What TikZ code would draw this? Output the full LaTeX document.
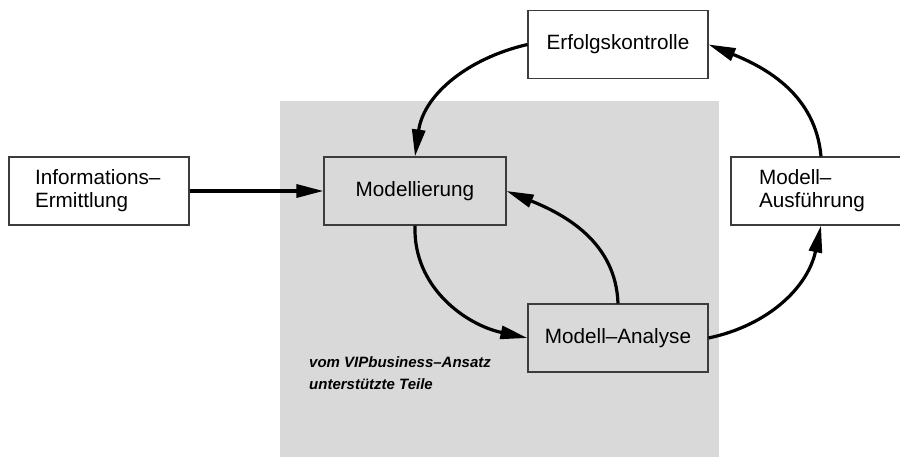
\documentclass[tikz,border=0pt]{standalone}
\usepackage{fontspec}
\setmainfont{Liberation Sans}
\usetikzlibrary{arrows.meta}

\definecolor{zonegray}{HTML}{D9D9D9}
\definecolor{frame}{HTML}{3C3C3C}

\tikzset{
  box/.style={draw=frame, line width=1.1pt, fill=white,
    minimum width=180pt, minimum height=68pt, inner sep=0pt,
    font=\fontsize{20.7}{23}\selectfont},
  leftbox/.style={box, text width=128pt, align=left},
  flow/.style={line width=3.2pt, -{Triangle[length=27pt,width=13pt]}},
  note/.style={font=\fontsize{15}{22}\selectfont\bfseries\itshape,
    align=left, inner sep=0pt}
}

\begin{document}
\begin{tikzpicture}[x=1pt, y=-1pt]
  \useasboundingbox (0,0) rectangle (900,457);
  \clip (0,0) rectangle (900,457);

  % shaded area of the supported parts
  \fill[zonegray] (280,101) rectangle (719,458);

  % process steps
  \node[leftbox] (info) at (99,191) {Informations--\\Ermittlung};
  \node[box, fill=zonegray, minimum width=182pt] (mod) at (415,191) {Modellierung};
  \node[box] (erf) at (618,44.5) {Erfolgskontrolle};
  \node[box, fill=zonegray] (ana) at (618,338) {Modell--Analyse};
  \node[leftbox, text width=124pt] (ausf) at (821,191) {Modell--\\Ausführung};

  \node[note, anchor=base west] (zone) at (309,389)
    {vom VIPbusiness--Ansatz\\unterstützte Teile};

  % cycle connectors
  \draw[flow] (info.east) -- (mod.west);
  \draw[flow] (erf.west) to[out=193, in=82] (mod.north);
  \draw[flow] (mod.south) to[out=-92, in=168] (ana.west);
  \draw[flow] (ana.north) to[out=92, in=-22] (mod.east);
  \draw[flow] (ana.east) to[out=12, in=-102] (ausf.south);
  \draw[flow] (ausf.north) to[out=95, in=-22] (erf.east);
\end{tikzpicture}
\end{document}
